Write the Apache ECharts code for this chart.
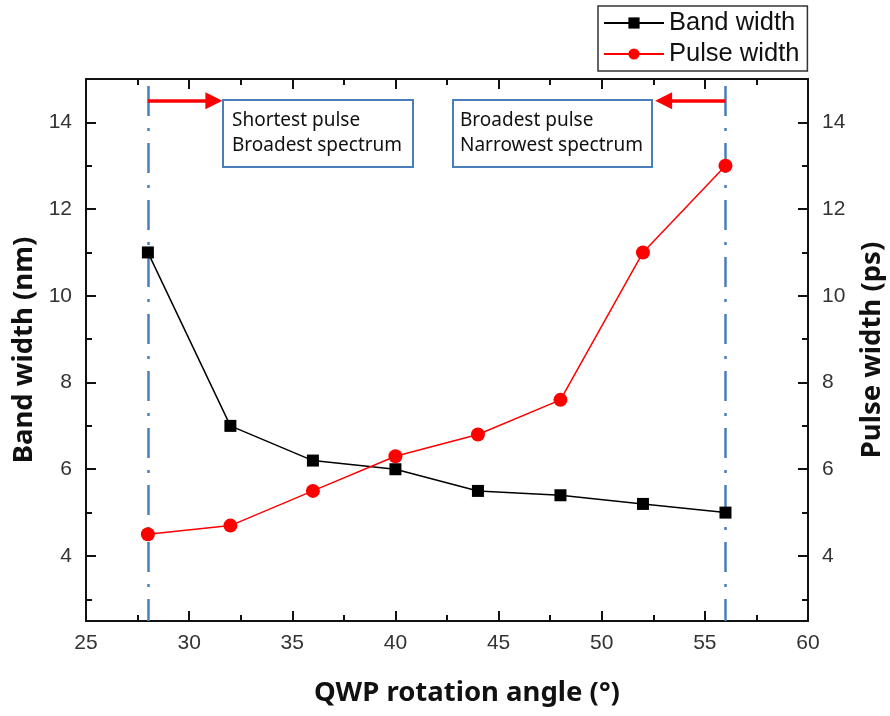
<!DOCTYPE html>
<html>
<head>
<meta charset="utf-8">
<script src="https://cdn.jsdelivr.net/npm/echarts@6/dist/echarts.min.js"></script>
<style>
  html, body { margin: 0; padding: 0; background: #fff; }
  #chart { width: 890px; height: 716px; }
</style>
</head>
<body>
<div id="chart"></div>
<script>
// data
var angles = [28, 32, 36, 40, 44, 48, 52, 56];
var bandWidth = [11.0, 7.0, 6.2, 6.0, 5.5, 5.4, 5.2, 5.0];
var pulseWidth = [4.5, 4.7, 5.5, 6.3, 6.8, 7.6, 11.0, 13.0];
var yMajor = [4, 6, 8, 10, 12, 14];
var yMinor = [3, 5, 7, 9, 11, 13];
var markAngles = [28, 56];

var chart = echarts.init(document.getElementById('chart'));

var axisColor = '#111';
var labelFont = { fontFamily: 'Liberation Sans', fontSize: 21, color: '#333' };
var titleFont = { fontFamily: 'Noto Sans', fontWeight: 'bold', fontSize: 27.5, color: '#111' };
var blue = '#4a7ebb';

function xAx(pos, show) {
    return {
        type: 'value', position: pos, min: 25, max: 60, interval: 5,
        axisLine: { lineStyle: { color: axisColor, width: 2 } },
        axisTick: { inside: true, length: 10, lineStyle: { color: axisColor, width: 2 } },
        minorTick: { show: true, splitNumber: 2, length: 6, lineStyle: { color: axisColor, width: 2 } },
        axisLabel: Object.assign({ show: show, margin: 12 }, labelFont),
        splitLine: { show: false }
    };
}

function yAx(pos, name, labels, gap) {
    return {
        type: 'value', position: pos, min: 2.5, max: 15,
        name: name, nameLocation: 'middle', nameGap: gap,
        nameTextStyle: titleFont,
        axisLine: { show: labels, lineStyle: { color: axisColor, width: 2 } },
        axisTick: { inside: true, length: labels ? 10 : 6, customValues: labels ? yMajor : yMinor,
                    lineStyle: { color: axisColor, width: 2 } },
        axisLabel: Object.assign({ show: labels, margin: 14, customValues: yMajor }, labelFont),
        splitLine: { show: false }
    };
}

var xTitle = xAx('bottom', true);
xTitle.name = 'QWP rotation angle (°)';
xTitle.nameLocation = 'middle';
xTitle.nameGap = 58;
xTitle.nameTextStyle = Object.assign({ padding: [0, 0, 0, 40] }, titleFont);

var option = {
    animation: false,
    backgroundColor: '#fff',
    grid: { left: 86, right: 82, top: 79, bottom: 95, outerBoundsMode: 'none', containLabel: false },
    legend: {
        left: 598, top: 6, orient: 'vertical',
        itemWidth: 60, itemHeight: 14, itemGap: 5,
        padding: [4, 8, 4, 5],
        borderColor: '#333', borderWidth: 1.5,
        textStyle: { fontFamily: 'Liberation Sans', fontSize: 25.5, color: '#111' },
        data: ['Band width', 'Pulse width']
    },
    xAxis: [xTitle, xAx('top', false)],
    yAxis: [
        yAx('left', 'Band width (nm)', true, 46),
        yAx('right', 'Pulse width (ps)', true, 50),
        yAx('left', '', false, 0),
        yAx('right', '', false, 0)
    ],
    graphic: [
        { type: 'rect', shape: { x: 223, y: 100, width: 190, height: 67 },
          style: { fill: '#fff', stroke: blue, lineWidth: 2 }, z: 50 },
        { type: 'text', x: 232, y: 108, z: 51,
          style: { text: 'Shortest pulse\nBroadest spectrum', fill: '#111',
                   font: '19px "Noto Sans"', lineHeight: 25 } },
        { type: 'rect', shape: { x: 453, y: 100, width: 199, height: 67 },
          style: { fill: '#fff', stroke: blue, lineWidth: 2 }, z: 50 },
        { type: 'text', x: 460, y: 108, z: 51,
          style: { text: 'Broadest pulse\nNarrowest spectrum', fill: '#111',
                   font: '19px "Noto Sans"', lineHeight: 25 } }
    ],
    series: [
        {
            name: 'Band width', type: 'line', yAxisIndex: 0,
            data: angles.map(function (a, i) { return [a, bandWidth[i]]; }),
            symbol: 'rect', symbolSize: 12,
            itemStyle: { color: '#000' },
            lineStyle: { color: '#000', width: 1.5 },
            z: 5,
            markLine: {
                silent: true, symbol: 'none', label: { show: false },
                lineStyle: { color: blue, width: 2.5, type: [30, 12, 3, 12] },
                data: markAngles.map(function (a) {
                    return [{ coord: [a, 14.84] }, { coord: [a, 2.5] }];
                })
            }
        },
        {
            name: 'Pulse width', type: 'line', yAxisIndex: 1,
            data: angles.map(function (a, i) { return [a, pulseWidth[i]]; }),
            symbol: 'circle', symbolSize: 14,
            itemStyle: { color: '#ff0000' },
            lineStyle: { color: '#ff0000', width: 1.5 },
            z: 6,
            markLine: {
                silent: true, symbol: ['none', 'triangle'], symbolSize: 17,
                label: { show: false },
                lineStyle: { color: '#ff0000', width: 3.5, type: 'solid' },
                data: [
                    [{ coord: [28, 14.5] }, { coord: [31.2, 14.5] }],
                    [{ coord: [56, 14.5] }, { coord: [53.0, 14.5] }]
                ]
            }
        }
    ]
};

chart.setOption(option);
</script>
</body>
</html>
